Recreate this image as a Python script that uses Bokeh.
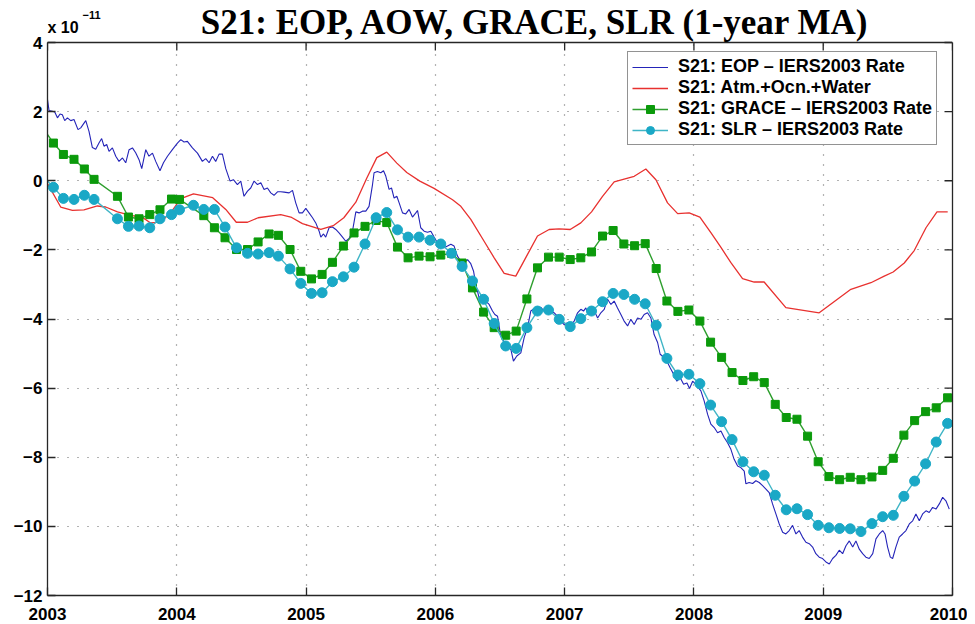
import math
from bokeh.plotting import figure
from bokeh.models import (Range1d, FixedTicker, LinearAxis, Legend, LegendItem, Label,
                          BoxAnnotation, Span)
from bokeh.embed import file_html
from bokeh.resources import INLINE

# ---------------- data ----------------
x_ticks = [2003, 2004, 2005, 2006, 2007, 2008, 2009, 2010]
x_tick_labels = ["2003", "2004", "2005", "2006", "2007", "2008", "2009", "2010"]
y_ticks = [-12, -10, -8, -6, -4, -2, 0, 2, 4]
y_tick_labels = ["\u221212", "\u221210", "\u22128", "\u22126", "\u22124", "\u22122", "0", "2", "4"]

eop_year = [2003.000, 2003.012, 2003.038, 2003.056, 2003.077, 2003.097, 2003.115, 2003.133, 2003.154, 2003.180,
            2003.205, 2003.236, 2003.257, 2003.296, 2003.321, 2003.347, 2003.373, 2003.398, 2003.419, 2003.437,
            2003.458, 2003.476, 2003.502, 2003.528, 2003.553, 2003.580, 2003.605, 2003.631, 2003.657, 2003.682,
            2003.708, 2003.729, 2003.760, 2003.785, 2003.812, 2003.837, 2003.870, 2003.897, 2003.928, 2003.966,
            2004.005, 2004.031, 2004.056, 2004.082, 2004.121, 2004.160, 2004.198, 2004.224, 2004.250, 2004.276,
            2004.301, 2004.327, 2004.353, 2004.379, 2004.412, 2004.438, 2004.469, 2004.495, 2004.520, 2004.547,
            2004.572, 2004.598, 2004.624, 2004.650, 2004.675, 2004.701, 2004.727, 2004.752, 2004.779, 2004.804,
            2004.830, 2004.869, 2004.895, 2004.920, 2004.946, 2004.972, 2004.998, 2005.023, 2005.050, 2005.075,
            2005.101, 2005.114, 2005.135, 2005.152, 2005.178, 2005.204, 2005.230, 2005.255, 2005.282, 2005.307,
            2005.333, 2005.359, 2005.385, 2005.410, 2005.436, 2005.462, 2005.487, 2005.514, 2005.526, 2005.552,
            2005.578, 2005.599, 2005.617, 2005.642, 2005.661, 2005.681, 2005.702, 2005.720, 2005.746, 2005.771,
            2005.797, 2005.823, 2005.849, 2005.862, 2005.887, 2005.913, 2005.939, 2005.965, 2005.990, 2006.017,
            2006.042, 2006.068, 2006.094, 2006.120, 2006.145, 2006.171, 2006.197, 2006.222, 2006.249, 2006.274,
            2006.295, 2006.313, 2006.338, 2006.364, 2006.390, 2006.416, 2006.442, 2006.460, 2006.481, 2006.506,
            2006.532, 2006.557, 2006.584, 2006.604, 2006.630, 2006.661, 2006.687, 2006.713, 2006.738, 2006.764,
            2006.790, 2006.816, 2006.841, 2006.868, 2006.893, 2006.919, 2006.945, 2006.971, 2006.996, 2007.022,
            2007.048, 2007.074, 2007.100, 2007.125, 2007.146, 2007.164, 2007.182, 2007.203, 2007.228, 2007.255,
            2007.280, 2007.306, 2007.332, 2007.358, 2007.383, 2007.409, 2007.435, 2007.460, 2007.487, 2007.512,
            2007.538, 2007.564, 2007.590, 2007.615, 2007.641, 2007.667, 2007.692, 2007.719, 2007.739, 2007.765,
            2007.791, 2007.816, 2007.843, 2007.868, 2007.894, 2007.920, 2007.946, 2007.966, 2007.990, 2008.015,
            2008.054, 2008.079, 2008.106, 2008.131, 2008.157, 2008.183, 2008.209, 2008.234, 2008.260, 2008.286,
            2008.311, 2008.338, 2008.363, 2008.389, 2008.402, 2008.427, 2008.454, 2008.479, 2008.505, 2008.531,
            2008.557, 2008.582, 2008.608, 2008.634, 2008.660, 2008.686, 2008.711, 2008.737, 2008.763, 2008.789,
            2008.814, 2008.840, 2008.866, 2008.892, 2008.918, 2008.943, 2008.969, 2008.995, 2009.021, 2009.047,
            2009.073, 2009.098, 2009.124, 2009.150, 2009.176, 2009.202, 2009.228, 2009.253, 2009.279, 2009.305,
            2009.330, 2009.356, 2009.383, 2009.408, 2009.434, 2009.460, 2009.478, 2009.498, 2009.519, 2009.537,
            2009.562, 2009.588, 2009.614, 2009.640, 2009.666, 2009.692, 2009.717, 2009.743, 2009.769, 2009.795,
            2009.820, 2009.846, 2009.872, 2009.898, 2009.924, 2009.949, 2009.975]
eop_val = [2.35, 2.03, 2.01, 1.99, 1.82, 1.93, 1.91, 1.74, 1.82, 1.74,
           1.77, 1.48, 1.53, 1.74, 1.43, 0.96, 0.91, 1.09, 1.22, 1.00,
           1.05, 0.85, 0.95, 0.71, 0.56, 0.66, 0.52, 0.90, 0.95, 0.81,
           0.61, 0.35, 0.90, 0.71, 0.80, 0.56, 0.29, 0.52, 0.71, 0.90,
           1.09, 1.19, 1.12, 1.14, 0.95, 0.80, 0.56, 0.64, 0.52, 0.71,
           0.56, 0.77, 0.77, 0.35, -0.01, 0.03, -0.11, -0.01, -0.45, -0.30,
           -0.21, -0.01, -0.11, -0.06, -0.25, -0.21, -0.35, -0.42, -0.32, -0.32,
           -0.33, -0.35, -0.28, -0.64, -0.93, -0.93, -0.80, -0.93, -1.07, -1.22,
           -1.46, -1.63, -1.54, -1.63, -1.36, -1.34, -1.41, -1.51, -1.63, -1.75,
           -1.67, -1.46, -0.90, -0.93, -0.88, -0.88, -0.74, -0.11, 0.23, 0.27,
           0.23, 0.29, 0.13, -0.25, -0.21, -0.50, -0.45, -0.64, -0.93, -0.96,
           -0.83, -1.05, -0.93, -0.86, -1.36, -1.46, -1.49, -1.46, -1.63, -1.80,
           -1.89, -1.94, -1.89, -1.84, -1.89, -2.18, -2.33, -2.38, -2.28, -2.40,
           -2.61, -3.00, -3.38, -3.43, -3.48, -3.58, -3.77, -3.87, -3.92, -4.50,
           -4.66, -4.81, -4.88, -5.22, -5.07, -4.98, -4.54, -4.25, -3.77, -3.70,
           -3.75, -3.66, -3.77, -3.68, -3.77, -3.82, -3.92, -4.06, -4.16, -4.11,
           -4.16, -4.06, -3.82, -3.72, -3.77, -3.68, -3.87, -3.77, -3.75, -3.97,
           -3.82, -3.72, -3.43, -3.58, -3.48, -3.68, -3.87, -4.06, -4.20, -4.01,
           -4.16, -3.97, -4.01, -3.87, -3.82, -3.97, -4.45, -4.68, -5.02, -5.10,
           -5.22, -5.41, -5.60, -5.80, -5.70, -5.89, -5.85, -6.01, -5.80, -5.89,
           -6.08, -6.37, -6.76, -7.04, -7.14, -7.29, -7.24, -7.43, -7.58, -7.77,
           -8.06, -8.25, -8.30, -8.40, -8.77, -8.73, -8.76, -8.68, -8.73, -8.82,
           -8.92, -9.02, -9.35, -9.64, -9.93, -10.17, -10.22, -10.12, -9.97, -10.22,
           -10.12, -10.31, -10.46, -10.50, -10.60, -10.79, -10.89, -10.93, -11.03, -11.09,
           -10.93, -10.84, -10.69, -10.79, -10.56, -10.42, -10.60, -10.42, -10.66, -10.79,
           -10.89, -10.93, -10.79, -10.36, -10.22, -10.12, -10.22, -10.60, -10.89, -10.93,
           -10.60, -10.31, -10.22, -10.12, -9.93, -9.84, -9.64, -9.84, -9.64, -9.55,
           -9.60, -9.45, -9.50, -9.35, -9.16, -9.26, -9.50]

aow_year = [2003.000, 2003.102, 2003.193, 2003.282, 2003.386, 2003.450, 2003.541, 2003.644, 2003.734, 2003.798,
            2003.876, 2003.966, 2004.031, 2004.129, 2004.278, 2004.379, 2004.460, 2004.547, 2004.629, 2004.804,
            2004.882, 2004.972, 2005.114, 2005.210, 2005.292, 2005.385, 2005.470, 2005.547, 2005.624, 2005.702,
            2005.779, 2005.880, 2005.990, 2006.133, 2006.197, 2006.274, 2006.377, 2006.455, 2006.532, 2006.622,
            2006.713, 2006.790, 2006.880, 2006.957, 2007.043, 2007.125, 2007.208, 2007.293, 2007.383, 2007.460,
            2007.538, 2007.628, 2007.706, 2007.796, 2007.874, 2007.963, 2008.046, 2008.131, 2008.209, 2008.286,
            2008.376, 2008.466, 2008.543, 2008.711, 2008.969, 2009.214, 2009.369, 2009.472, 2009.541, 2009.627,
            2009.704, 2009.795, 2009.880, 2009.963]
aow_val = [-0.08, -0.76, -0.86, -0.84, -0.73, -0.76, -0.90, -1.00, -1.06, -1.22,
           -1.20, -0.86, -0.52, -0.38, -0.49, -0.83, -1.20, -1.20, -1.07, -0.98,
           -1.05, -1.24, -1.41, -1.30, -1.07, -0.62, 0.08, 0.67, 0.83, 0.51,
           0.24, -0.01, -0.22, -0.55, -0.74, -1.12, -1.75, -2.23, -2.68, -2.76,
           -2.13, -1.60, -1.41, -1.39, -1.41, -1.22, -0.90, -0.45, -0.03, 0.05,
           0.13, 0.34, 0.03, -0.64, -0.95, -0.93, -1.05, -1.50, -1.93, -2.37,
           -2.83, -2.93, -2.93, -3.67, -3.82, -3.14, -2.95, -2.76, -2.64, -2.38,
           -2.02, -1.36, -0.90, -0.90]

grace_year = [2002.960, 2003.046, 2003.123, 2003.205, 2003.285, 2003.360, 2003.541, 2003.626, 2003.708, 2003.791,
              2003.870, 2003.959, 2004.021, 2004.209, 2004.291, 2004.373, 2004.462, 2004.547, 2004.629, 2004.714,
              2004.786, 2004.876, 2004.959, 2005.042, 2005.124, 2005.204, 2005.289, 2005.371, 2005.456, 2005.542,
              2005.624, 2005.707, 2005.789, 2005.874, 2005.959, 2006.042, 2006.125, 2006.207, 2006.287, 2006.373,
              2006.455, 2006.544, 2006.625, 2006.708, 2006.790, 2006.875, 2006.958, 2007.043, 2007.125, 2007.208,
              2007.293, 2007.375, 2007.458, 2007.541, 2007.623, 2007.708, 2007.791, 2007.876, 2007.961, 2008.046,
              2008.129, 2008.214, 2008.295, 2008.379, 2008.462, 2008.544, 2008.629, 2008.714, 2008.797, 2008.879,
              2008.961, 2009.044, 2009.127, 2009.209, 2009.292, 2009.377, 2009.460, 2009.542, 2009.624, 2009.707,
              2009.792, 2009.874, 2009.962]
grace_val = [1.56, 1.09, 0.76, 0.62, 0.34, 0.04, -0.45, -1.05, -1.10, -0.98,
             -0.84, -0.53, -0.54, -1.01, -1.36, -1.65, -1.99, -1.99, -1.77, -1.54,
             -1.58, -1.99, -2.62, -2.84, -2.71, -2.36, -1.89, -1.51, -1.32, -1.15,
             -1.21, -1.92, -2.23, -2.18, -2.20, -2.15, -2.10, -2.38, -3.10, -3.80,
             -4.25, -4.47, -4.35, -3.42, -2.52, -2.21, -2.21, -2.28, -2.23, -2.06,
             -1.60, -1.44, -1.83, -1.88, -1.82, -2.54, -3.48, -3.78, -3.74, -4.06,
             -4.67, -5.11, -5.55, -5.78, -5.67, -5.84, -6.47, -6.85, -6.90, -7.39,
             -8.13, -8.56, -8.65, -8.58, -8.65, -8.57, -8.38, -8.03, -7.36, -6.94,
             -6.68, -6.57, -6.28]

slr_year = [2002.960, 2003.046, 2003.123, 2003.205, 2003.285, 2003.360, 2003.541, 2003.626, 2003.708, 2003.791,
            2003.870, 2003.959, 2004.021, 2004.129, 2004.209, 2004.291, 2004.373, 2004.462, 2004.547, 2004.629,
            2004.714, 2004.786, 2004.876, 2004.959, 2005.042, 2005.124, 2005.204, 2005.289, 2005.371, 2005.456,
            2005.542, 2005.624, 2005.707, 2005.789, 2005.874, 2005.959, 2006.042, 2006.125, 2006.207, 2006.287,
            2006.373, 2006.455, 2006.544, 2006.625, 2006.708, 2006.790, 2006.875, 2006.958, 2007.043, 2007.125,
            2007.208, 2007.293, 2007.375, 2007.458, 2007.541, 2007.623, 2007.708, 2007.791, 2007.876, 2007.961,
            2008.046, 2008.129, 2008.214, 2008.295, 2008.379, 2008.462, 2008.544, 2008.629, 2008.714, 2008.797,
            2008.879, 2008.961, 2009.044, 2009.127, 2009.209, 2009.292, 2009.377, 2009.460, 2009.542, 2009.624,
            2009.707, 2009.792, 2009.874, 2009.962]
slr_val = [0.15, -0.19, -0.51, -0.54, -0.42, -0.54, -1.10, -1.32, -1.31, -1.36,
           -1.10, -0.98, -0.84, -0.71, -0.83, -0.83, -1.34, -1.94, -2.10, -2.12,
           -2.08, -2.18, -2.55, -2.97, -3.26, -3.24, -2.92, -2.78, -2.50, -1.83,
           -1.07, -0.92, -1.42, -1.63, -1.63, -1.72, -1.83, -2.10, -2.48, -2.90,
           -3.43, -4.13, -4.78, -4.85, -4.25, -3.77, -3.74, -4.01, -4.22, -3.99,
           -3.77, -3.50, -3.26, -3.29, -3.43, -3.56, -4.18, -5.14, -5.62, -5.60,
           -5.87, -6.49, -6.97, -7.49, -8.13, -8.42, -8.52, -9.10, -9.52, -9.49,
           -9.66, -9.97, -10.04, -10.06, -10.07, -10.15, -9.92, -9.72, -9.68, -9.13,
           -8.69, -8.19, -7.56, -7.02]

series_names = ["S21: EOP \u2013 IERS2003 Rate", "S21: Atm.+Ocn.+Water",
                "S21: GRACE \u2013 IERS2003 Rate", "S21: SLR \u2013 IERS2003 Rate"]
title_text = "S21: EOP, AOW, GRACE, SLR (1-year MA)"
scale_text = "x 10"
scale_exp = "\u221211"

# ---------------- layout / styling ----------------
X0, X1 = x_ticks[0], x_ticks[-1]
Y0, Y1 = y_ticks[0], y_ticks[-1]
AXES_H = 553          # pixel height of the axes box (Y0..Y1)
HEAD = 42             # pixels above the axes box used for the heading texts
PX = (Y1 - Y0) / AXES_H   # data units per pixel (vertical)
Y_TOP = Y1 + HEAD * PX

C_EOP = "#2424b8"
C_AOW = "#e8312f"
C_GRACE_LINE = "#2f9f2f"
C_GRACE_MK = "#0b9a0b"
C_SLR_LINE = "#3fb5c6"
C_SLR_MK = "#1aa8c6"
AX = "#262626"
FONT = "Liberation Sans"

p = figure(frame_width=905, frame_height=AXES_H + HEAD,
           x_range=Range1d(X0, X1), y_range=Range1d(Y0, Y_TOP),
           output_backend="svg", toolbar_location=None, title=None,
           min_border_left=47, min_border_right=15, min_border_top=0, min_border_bottom=29,
           background_fill_color="white", border_fill_color="white")
p.outline_line_color = None

def style_axis(ax, ticks):
    ax.ticker = FixedTicker(ticks=ticks)
    ax.axis_line_color = AX
    ax.axis_line_width = 1.3
    ax.major_tick_line_color = AX
    ax.major_tick_line_width = 1.3
    ax.major_tick_in = 8
    ax.major_tick_out = 0
    ax.minor_tick_line_color = None
    ax.major_label_text_font = FONT
    ax.major_label_text_font_style = "bold"
    ax.major_label_text_color = "black"
    ax.major_label_text_font_size = "17px"

xa = p.xaxis[0]
style_axis(xa, x_ticks)
xa.major_label_overrides = {t: s for t, s in zip(x_ticks, x_tick_labels)}
xa.major_label_standoff = 12

ya = p.yaxis[0]
style_axis(ya, y_ticks)
ya.bounds = (Y0, Y1)
ya.major_label_overrides = {t: s for t, s in zip(y_ticks, y_tick_labels)}
ya.major_label_standoff = 5

right_ax = LinearAxis(bounds=(Y0, Y1), ticker=FixedTicker(ticks=[]))
right_ax.axis_line_color = AX
right_ax.axis_line_width = 1.3
right_ax.major_label_standoff = 0
p.add_layout(right_ax, "right")

p.xgrid.ticker = FixedTicker(ticks=x_ticks)
p.ygrid.ticker = FixedTicker(ticks=y_ticks)
for g in (p.xgrid[0], p.ygrid[0]):
    g.grid_line_color = "#555555"
    g.grid_line_width = 1.2
    g.grid_line_dash = "1 9"
    g.grid_line_alpha = 0.9

# white heading strip above the axes box (hides grid there), then the box top edge
p.add_layout(BoxAnnotation(bottom=Y1, fill_color="white", fill_alpha=1.0,
                           line_color=None, level="underlay"))
p.add_layout(Span(location=Y1, dimension="width", line_color=AX, line_width=1.3))

# inward ticks on the top and right edges
p.ray(x=x_ticks, y=[Y1] * len(x_ticks), length=8, length_units="screen",
      angle=-math.pi / 2, line_color=AX, line_width=1.3)
p.ray(x=[X1] * len(y_ticks), y=y_ticks, length=8, length_units="screen",
      angle=math.pi, line_color=AX, line_width=1.3)

r_eop = p.line(eop_year, eop_val, line_color=C_EOP, line_width=1.1)
r_aow = p.line(aow_year, aow_val, line_color=C_AOW, line_width=1.3)
r_gl = p.line(grace_year, grace_val, line_color=C_GRACE_LINE, line_width=1.4)
r_gm = p.scatter(grace_year, grace_val, marker="square", size=8, fill_color=C_GRACE_MK,
                 line_color=C_GRACE_MK)
r_sl = p.line(slr_year, slr_val, line_color=C_SLR_LINE, line_width=1.4)
r_sm = p.scatter(slr_year, slr_val, marker="circle", size=10, fill_color=C_SLR_MK,
                 line_color=C_SLR_MK)

legend = Legend(items=[
    LegendItem(label=series_names[0], renderers=[r_eop]),
    LegendItem(label=series_names[1], renderers=[r_aow]),
    LegendItem(label=series_names[2], renderers=[r_gl, r_gm]),
    LegendItem(label=series_names[3], renderers=[r_sl, r_sm]),
], location=(580, 450))
legend.padding = 4
legend.spacing = 0
legend.label_height = 20
legend.glyph_height = 20
legend.glyph_width = 36
legend.label_standoff = 10
legend.label_text_font = FONT
legend.label_text_font_style = "bold"
legend.label_text_font_size = "18px"
legend.label_text_color = "black"
legend.border_line_color = AX
legend.border_line_width = 1.3
legend.background_fill_color = "white"
legend.background_fill_alpha = 1.0
p.add_layout(legend)

# heading texts (title, and the axis multiplier x 10^-11)
p.add_layout(Label(x=2006.774, y=Y1 + 20 * PX, text=title_text, text_font="Liberation Serif",
                   text_font_style="bold", text_font_size="35px", text_align="center",
                   text_baseline="alphabetic", text_color="black"))
p.add_layout(Label(x=X0, y=Y1 + 15.5 * PX, text=scale_text, text_font=FONT, text_font_style="bold",
                   text_font_size="16px", text_baseline="alphabetic", text_color="black"))
p.add_layout(Label(x=2003.271, y=Y1 + 27.5 * PX, text=scale_exp, text_font=FONT,
                   text_font_style="bold", text_font_size="11px", text_baseline="alphabetic",
                   text_color="black"))

open("out.html", "w").write(file_html(p, INLINE))
